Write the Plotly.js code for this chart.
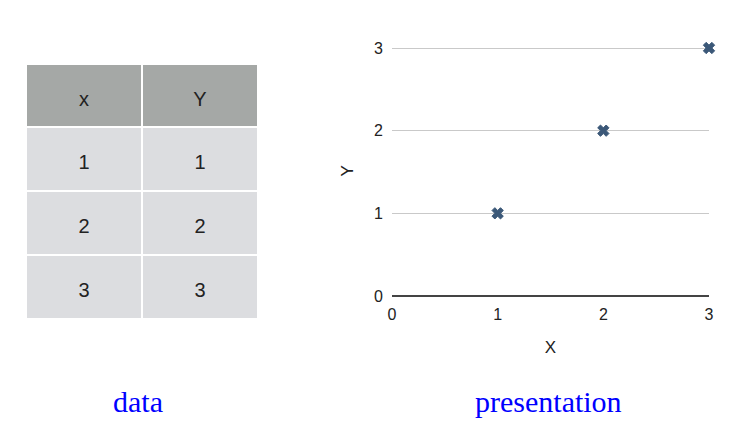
<!DOCTYPE html>
<html>
<head>
<meta charset="utf-8">
<script src="https://cdn.plot.ly/plotly-3.0.1.min.js"></script>
<style>html,body{margin:0;padding:0;background:#fff;}#chart{width:733px;height:425px;}</style>
</head>
<body>
<div id="chart"></div>
<script>
const headerLabels = ['x', 'Y'];
const xValues = [1, 2, 3];
const yValues = [1, 2, 3];
const xTicks = [0, 1, 2, 3];
const yTicks = [0, 1, 2, 3];
const captions = ['data', 'presentation'];

// vertical centring of table text: a small blank first line pushes the value down
const cellText = v => '\u00a0<br><span style="font-size:20px">' + v + '</span>';

const tableTrace = {
  type: 'table',
  domain: {x: [26/733, 258/733], y: [0.18, 1 - 64/425]},
  columnwidth: [1, 1],
  header: {
    values: headerLabels.map(cellText),
    height: 63,
    align: 'center',
    fill: {color: '#a5a8a6'},
    line: {color: '#ffffff', width: 2},
    font: {family: 'Liberation Sans, Arial, sans-serif', size: 15, color: '#222'}
  },
  cells: {
    values: [xValues.map(cellText), yValues.map(cellText)],
    height: 64,
    align: 'center',
    fill: {color: '#dcdde0'},
    line: {color: '#ffffff', width: 2},
    font: {family: 'Liberation Sans, Arial, sans-serif', size: 15, color: '#222'}
  }
};

const scatterTrace = {
  type: 'scatter',
  mode: 'markers',
  x: xValues,
  y: yValues,
  cliponaxis: false,
  marker: {symbol: 'x', size: 10, color: '#3b5878', line: {width: 1, color: '#3b5878'}},
  hoverinfo: 'skip'
};

const yMax = 3.03;
const yTopPx = 296 - 248 * yMax / 3;

const layout = {
  width: 733, height: 425,
  margin: {l: 0, r: 0, t: 0, b: 0},
  paper_bgcolor: '#ffffff', plot_bgcolor: '#ffffff',
  showlegend: false,
  font: {family: 'Liberation Sans, Arial, sans-serif', color: '#222', size: 16},
  xaxis: {
    domain: [392/733, 709/733],
    range: [0, 3],
    tickvals: xTicks,
    ticktext: xTicks.map(String),
    showgrid: false, zeroline: false, showline: false,
    ticks: '', ticklabelstandoff: 7,
    automargin: false,
    title: {text: 'X', standoff: 19, font: {size: 17, color: '#222'}}
  },
  yaxis: {
    domain: [1 - 296/425, 1 - yTopPx/425],
    range: [0, yMax],
    tickvals: yTicks,
    ticktext: yTicks.map(String),
    showgrid: true, gridcolor: '#c9c9c9', gridwidth: 1,
    zeroline: true, zerolinecolor: '#444', zerolinewidth: 2,
    showline: false, ticks: '', ticklabelstandoff: 8,
    automargin: false,
    title: {text: 'Y', standoff: 16, font: {size: 17, color: '#222'}}
  },
  annotations: [
    {text: captions[0], x: 138/733, y: 1 - 401/425, xref: 'paper', yref: 'paper',
     xanchor: 'center', yanchor: 'middle', showarrow: false,
     font: {family: 'Liberation Serif, Times New Roman, serif', size: 30, color: '#0000ff'}},
    {text: captions[1], x: 548/733, y: 1 - 401/425, xref: 'paper', yref: 'paper',
     xanchor: 'center', yanchor: 'middle', showarrow: false,
     font: {family: 'Liberation Serif, Times New Roman, serif', size: 30, color: '#0000ff'}}
  ]
};

Plotly.newPlot('chart', [tableTrace, scatterTrace], layout, {displayModeBar: false, staticPlot: true});
</script>
</body>
</html>
